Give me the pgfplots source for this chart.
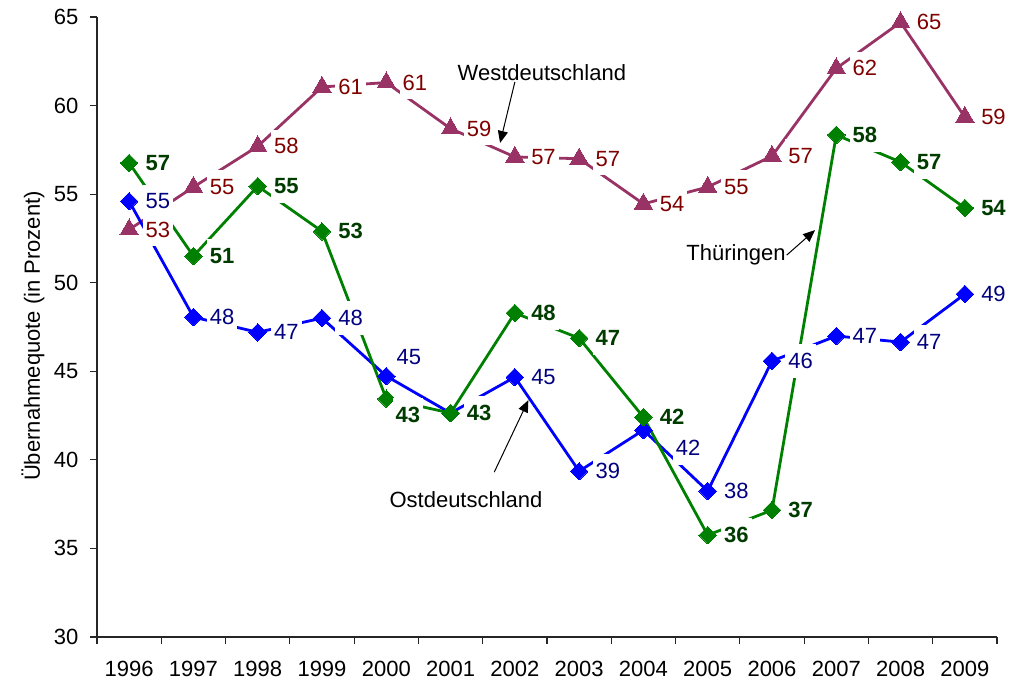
\documentclass[border=0pt]{standalone}
\usepackage{fontspec}
\setmainfont{Liberation Sans}
\usepackage{pgfplots}
\pgfplotsset{compat=1.18}
\usepackage{pgfplotstable}
\usetikzlibrary{arrows.meta}
\definecolor{westline}{RGB}{153,51,102}
\definecolor{westlab}{RGB}{128,0,0}
\definecolor{ostline}{RGB}{0,0,255}
\definecolor{ostlab}{RGB}{0,0,128}
\definecolor{thurline}{RGB}{0,128,0}
\definecolor{thurlab}{RGB}{0,60,0}

\pgfplotstableread{
x y lab
0 53.0 53
1 55.4 55
2 57.7 58
3 61.05 61
4 61.3 61
5 58.7 59
6 57.1 57
7 57.0 57
8 54.45 54
9 55.4 55
10 57.15 57
11 62.1 62
12 64.7 65
13 59.35 59
}\west

\pgfplotstableread{
x y lab
0 54.6 55
1 48.06 48
2 47.2 47
3 48.0 48
4 44.73 45
5 42.64 43
6 44.67 45
7 39.36 39
8 41.68 42
9 38.24 38
10 45.58 46
11 46.99 47
12 46.65 47
13 49.36 49
}\ost

\pgfplotstableread{
x y lab
0 56.76 57
1 51.5 51
2 55.45 55
3 52.9 53
4 43.45 43
5 42.64 43
6 48.29 48
7 46.87 47
8 42.41 42
9 35.75 36
10 37.16 37
11 58.34 58
12 56.81 57
13 54.22 54
}\thur

\newcommand{\lf}{\fontsize{11}{13}\selectfont}
\tikzset{lab/.style={font=\lf, fill=white, inner xsep=1.5pt, inner ysep=4.5pt, anchor=west, xshift=6.5pt}}

\begin{document}
\begin{tikzpicture}
\begin{axis}[
  scale only axis,
  width=450pt, height=310pt,
  xmin=-0.5, xmax=13.5,
  ymin=30, ymax=65,
  axis x line*=bottom, axis y line*=left,
  axis line style={black!85, line width=0.6pt},
  xtick={0,...,13},
  xticklabels={1996,1997,1998,1999,2000,2001,2002,2003,2004,2005,2006,2007,2008,2009},
  major x tick style={draw=none},
  minor xtick={-0.5,0.5,...,13.5},
  ytick={30,35,...,65},
  tick align=outside,
  major tick length=3.5pt, minor tick length=3.5pt,
  every tick/.style={black!85, line width=0.6pt},
  ticklabel style={font=\lf},
  /pgf/number format/assume math mode=true,
  yticklabel style={xshift=-2.3pt},
  xticklabel style={yshift=-5pt},
  ylabel={Übernahmequote (in Prozent)},
  every axis y label/.style={at={(axis description cs:-0.0711,0.4855)}, rotate=90, anchor=center, font=\lf},
  clip=false,
]
% lines and markers
\addplot[westline, line width=1.4pt, mark=triangle*, mark size=5.3pt, mark options={fill=westline, draw=westline, line width=0pt}] table[x=x,y=y] {\west};
\addplot[ostline, line width=1.4pt, mark=square*, mark size=3.1pt, mark options={fill=ostline, draw=ostline, rotate=45, line width=0pt}] table[x=x,y=y] {\ost};
\addplot[thurline, line width=1.4pt, mark=square*, mark size=3.1pt, mark options={fill=thurline, draw=thurline, rotate=45, line width=0pt}] table[x=x,y=y] {\thur};

% labels (drawn on top)
\addplot[draw=none, nodes near coords, point meta=explicit symbolic,
  every node near coord/.style={lab, text=westlab}] table[x=x,y=y,meta=lab] {\west};
\addplot[draw=none, nodes near coords, point meta=explicit symbolic,
  every node near coord/.style={lab, text=ostlab}] table[x=x,y=y,meta=lab] {
x y lab
0 54.6 55
1 48.06 48
2 47.2 47
3 48.0 48
6 44.67 45
7 39.36 39
9 38.24 38
10 45.58 46
11 46.99 47
12 46.65 47
13 49.36 49
};
\addplot[draw=none, nodes near coords, point meta=explicit symbolic,
  every node near coord/.style={lab, text=ostlab, xshift=-3pt, yshift=9.5pt}] table[x=x,y=y,meta=lab] {
x y lab
4 44.73 45
};
\addplot[draw=none, nodes near coords, point meta=explicit symbolic,
  every node near coord/.style={lab, text=ostlab, xshift=8pt, yshift=-9pt}] table[x=x,y=y,meta=lab] {
x y lab
8 41.68 42
};
\addplot[draw=none, nodes near coords, point meta=explicit symbolic,
  every node near coord/.style={lab, text=thurlab, font=\lf\bfseries}] table[x=x,y=y,meta=lab] {
x y lab
0 56.76 57
1 51.5 51
2 55.45 55
3 52.9 53
5 42.64 43
6 48.29 48
7 46.87 47
8 42.41 42
9 35.75 36
10 37.16 37
11 58.34 58
12 56.81 57
13 54.22 54
};
\addplot[draw=none, nodes near coords, point meta=explicit symbolic,
  every node near coord/.style={lab, text=thurlab, font=\lf\bfseries, xshift=-3.5pt, yshift=-8pt}] table[x=x,y=y,meta=lab] {
x y lab
4 43.45 43
};

% annotations
\node[font=\lf] at (axis cs:6.42,61.84) {Westdeutschland};
\draw[black, line width=0.5pt, -{Triangle[length=6pt,width=5pt]}] (axis cs:6.0,61.33) -- (axis cs:5.77,57.89);
\node[font=\lf] at (axis cs:9.44,51.56) {Thüringen};
\draw[black, line width=0.5pt, -{Triangle[length=6pt,width=5pt]}] (axis cs:10.23,51.56) -- (axis cs:10.67,52.97);
\node[font=\lf] at (axis cs:5.24,37.73) {Ostdeutschland};
\draw[black, line width=0.5pt, -{Triangle[length=6pt,width=5pt]}] (axis cs:5.68,39.31) -- (axis cs:6.21,43.37);
\end{axis}
\pgfresetboundingbox
\path[use as bounding box] (-48.5pt,-21.5pt) rectangle (464pt,318.5pt);
\end{tikzpicture}
\end{document}
